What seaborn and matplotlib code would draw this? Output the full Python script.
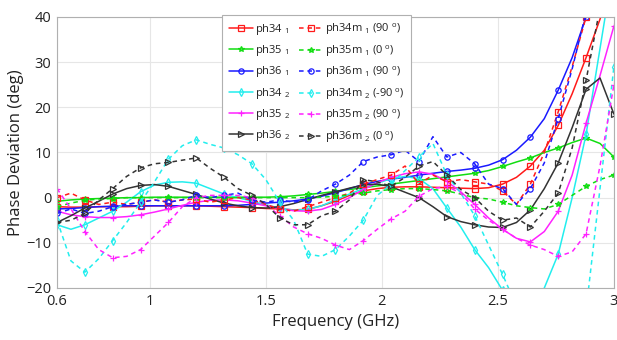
import matplotlib
matplotlib.use("Agg")
import matplotlib.pyplot as plt
import seaborn as sns

freq = [0.60, 0.66, 0.72, 0.78, 0.84, 0.90, 0.96, 1.02, 1.08, 1.14, 1.20, 1.26, 1.32, 1.38,
        1.44, 1.50, 1.56, 1.62, 1.68, 1.74, 1.80, 1.86, 1.92, 1.98, 2.04, 2.10, 2.16, 2.22,
        2.28, 2.34, 2.40, 2.46, 2.52, 2.58, 2.64, 2.70, 2.76, 2.82, 2.88, 2.94, 3.00]

ph34_1 = [-2.0, -2.1, -2.1, -2.0, -2.0, -2.0, -1.9, -1.8, -1.8, -1.8, -1.8, -1.9, -2.0, -2.1,
          -2.2, -2.4, -2.5, -2.7, -2.6, -1.8, -0.8, 0.5, 1.5, 2.0, 2.3, 2.4, 2.4, 2.3,
          2.2, 2.1, 2.0, 2.2, 3.0, 4.5, 7.0, 10.5, 16.0, 23.0, 31.0, 39.5, 49.0]
ph35_1 = [-0.8, -0.5, -0.3, -0.2, -0.1, 0.0, 0.0, 0.1, 0.1, 0.1, 0.1, 0.1, 0.1, 0.1,
          0.1, 0.1, 0.2, 0.4, 0.7, 1.0, 1.4, 1.8, 2.2, 2.6, 3.0, 3.4, 3.8, 4.2,
          4.6, 5.0, 5.4, 6.0, 6.9, 7.9, 8.8, 10.0, 11.0, 12.2, 13.2, 12.0, 9.0]
ph36_1 = [-2.5, -2.4, -2.2, -2.0, -1.9, -1.8, -1.8, -1.8, -1.8, -1.8, -1.8, -1.8, -1.8, -1.7,
          -1.5, -1.2, -1.0, -0.7, -0.3, 0.3, 1.1, 2.0, 2.9, 3.6, 4.1, 4.5, 5.0, 5.4,
          5.8, 6.1, 6.5, 7.2, 8.4, 10.5, 13.4, 17.5, 23.8, 31.0, 40.0, 50.0, 60.0]
ph34_2 = [-6.0, -7.0, -6.0, -4.5, -3.0, -1.0, 1.3, 2.8, 3.4, 3.5, 3.2, 2.0, 0.8, 0.0,
          -0.8, -1.6, -2.3, -2.8, -2.6, -1.8, -0.5, 0.8, 2.0, 3.2, 4.2, 4.7, 4.2, 2.0,
          -2.3, -6.5, -11.5, -15.5, -20.5, -24.0, -25.5, -20.0, -12.5, 0.0, 14.0, 33.0, 52.0]
ph35_2 = [-3.0, -3.8, -4.2, -4.4, -4.4, -4.2, -3.8, -3.2, -2.5, -1.7, -1.0, -0.6, -0.5, -0.7,
          -1.2, -1.8, -2.4, -2.9, -3.0, -2.6, -1.5, 0.0, 1.8, 3.3, 4.5, 5.3, 5.7, 5.2,
          3.6, 1.3, -1.5, -4.5, -7.0, -9.0, -9.8, -7.5, -3.0, 5.0, 16.5, 27.0, 38.0]
ph36_2 = [-5.5, -4.0, -2.3, -0.8, 0.8, 2.0, 2.7, 2.9, 2.5, 1.6, 0.7, -0.3, -1.2, -1.8,
          -2.2, -2.3, -2.0, -1.3, -0.4, 0.5, 1.3, 2.1, 2.8, 3.0, 2.4, 1.2, 0.0, -2.0,
          -4.2, -5.3, -6.0, -6.5, -6.6, -5.5, -2.7, 2.0, 7.7, 15.5, 24.0, 26.5, 18.5]

ph34m_1 = [0.0, 1.0, -0.5, -1.5, -1.0, -1.5, -1.0, -0.5, -1.0, -0.5, -0.3, -1.0, -0.5, 0.0,
           -0.5, -1.5, -2.5, -3.0, -2.0, -1.0, 0.0, 1.0, 3.0, 4.0, 5.0, 7.0, 3.0, 5.0,
           3.5, 4.0, 3.5, 3.0, 1.5, -1.5, 3.0, 10.0, 19.0, 29.0, 40.0, 50.0, 60.0]
ph35m_1 = [-2.0, -1.2, -0.6, -0.3, -0.2, 0.0, 0.0, 0.0, 0.0, 0.0, 0.0, 0.0, 0.0, 0.0,
           0.0, 0.0, 0.0, 0.0, 0.0, 0.1, 0.3, 0.6, 1.0, 1.5, 1.8, 2.0, 2.0, 1.8,
           1.5, 0.8, 0.0, -0.3, -1.0, -1.8, -2.2, -2.5, -1.5, 0.5, 2.5, 4.0, 5.0]
ph36m_1 = [-3.5, -2.5, -3.5, -3.0, -2.0, -1.5, -1.0, -0.5, -1.0, -0.5, 0.5, 0.0, 0.5, 1.0,
           -0.5, -1.0, -0.5, -1.0, -0.5, 1.5, 3.0, 5.0, 8.0, 9.0, 9.5, 10.5, 8.0, 13.5,
           9.0, 10.0, 7.5, 3.0, 2.0, -1.5, 2.0, 7.7, 17.5, 28.5, 41.0, 53.0, 65.0]
ph34m_2 = [-5.0, -14.0, -16.5, -13.5, -9.5, -5.5, -1.0, 3.5, 8.5, 11.5, 12.8, 11.8, 11.0, 9.5,
           7.5, 4.0, -1.0, -5.0, -12.5, -13.0, -11.5, -8.5, -5.0, 0.5, 3.0, 6.0, 9.0, 12.0,
           5.0, 1.0, -4.0, -10.5, -17.0, -24.0, -30.0, -30.0, -30.0, -30.0, -25.0, 2.0, 29.0]
ph35m_2 = [2.0, -2.5, -7.5, -11.5, -13.3, -13.0, -11.5, -8.5, -5.5, -2.0, 0.0, 0.5, 0.5, 0.5,
           0.0, -1.5, -4.0, -6.5, -8.0, -9.0, -10.5, -11.5, -9.5, -7.0, -4.7, -3.0, 0.3, 2.0,
           2.5, 1.0, -2.5, -5.0, -7.0, -9.0, -10.5, -11.5, -13.0, -12.0, -8.0, 7.0, 25.0]
ph36m_2 = [-5.5, -5.0, -3.5, -0.5, 2.0, 4.7, 6.6, 7.5, 7.8, 8.3, 8.8, 6.5, 4.5, 2.0,
           0.5, -1.5, -4.5, -6.0, -6.0, -4.0, -3.0, -0.5, 4.0, 3.5, 2.5, 4.5, 7.0, 8.0,
           5.0, 1.8, 0.0, -3.0, -5.0, -4.5, -6.5, -3.0, 1.0, 11.0, 26.0, 42.0, 58.0]

labels_solid = ["ph34 $_1$", "ph35 $_1$", "ph36 $_1$", "ph34 $_2$", "ph35 $_2$", "ph36 $_2$"]
labels_dash = ["ph34m $_1$ (90 $^o$)", "ph35m $_1$ (0 $^o$)", "ph36m $_1$ (90 $^o$)",
               "ph34m $_2$ (-90 $^o$)", "ph35m $_2$ (90 $^o$)", "ph36m $_2$ (0 $^o$)"]
x_ticks = [0.6, 1, 1.5, 2, 2.5, 3]
x_ticklabels = ["0.6", "1", "1.5", "2", "2.5", "3"]
y_ticks = [-20, -10, 0, 10, 20, 30, 40]

sns.set_theme(style="whitegrid")
plt.rcParams['font.family'] = ['Open Sans', 'DejaVu Sans']
plt.rcParams['mathtext.default'] = 'regular'

colors = ['#ff1a1a', '#11dd11', '#1a1aff', '#22eeee', '#ff22ff', '#333333']
markers = ['s', '*', 'o', 'd', '+', '>']
solid = [ph34_1, ph35_1, ph36_1, ph34_2, ph35_2, ph36_2]
dashed = [ph34m_1, ph35m_1, ph36m_1, ph34m_2, ph35m_2, ph36m_2]

fig = plt.figure(figsize=(6.17, 3.40), dpi=100)
ax = fig.add_axes([0.0924, 0.153, 0.9026, 0.797])

handles = []
for series, col, mk, lab in zip(solid, colors, markers, labels_solid):
    sns.lineplot(x=freq, y=series, color=col, marker=mk, markevery=2, markersize=3.8,
                 markerfacecolor='none', markeredgecolor=col, markeredgewidth=0.9,
                 linewidth=1.1, ax=ax, label=lab, sort=False)
    handles.append(ax.lines[-1])
for series, col, mk, lab in zip(dashed, colors, markers, labels_dash):
    sns.lineplot(x=freq, y=series, color=col, marker=mk, markevery=2, markersize=3.8,
                 markerfacecolor='none', markeredgecolor=col, markeredgewidth=0.9,
                 linewidth=1.1, linestyle=(0, (3, 2.5)), ax=ax, label=lab, sort=False)
    handles.append(ax.lines[-1])

ax.set_xlim(0.6, 3.0)
ax.set_ylim(-20, 40)
ax.set_xticks(x_ticks)
ax.set_xticklabels(x_ticklabels)
ax.set_yticks(y_ticks)
ax.tick_params(axis='both', labelsize=10.5, length=0, pad=4, colors='#222222')
ax.grid(True, color='#e6e6e6', linewidth=0.8)
ax.set_facecolor('white')
for sp in ax.spines.values():
    sp.set_color('#b0b0b0')
    sp.set_linewidth(0.8)
ax.set_xlabel("Frequency (GHz)", fontsize=12, color='#222222', labelpad=4)
ax.set_ylabel("Phase Deviation (deg)", fontsize=12, color='#222222', labelpad=2)

leg = ax.legend(handles=handles, labels=labels_solid + labels_dash, ncol=2,
                loc='upper left', bbox_to_anchor=(0.296, 1.007), borderaxespad=0,
                fontsize=8, handlelength=2.2, handletextpad=0.15, columnspacing=0.8,
                labelspacing=0.55, borderpad=0.6, fancybox=False, framealpha=1,
                edgecolor='#b0b0b0')
leg.get_frame().set_linewidth(0.8)
for t in leg.get_texts():
    t.set_color('#222222')

fig.savefig("out.png", dpi=100, facecolor='white')
